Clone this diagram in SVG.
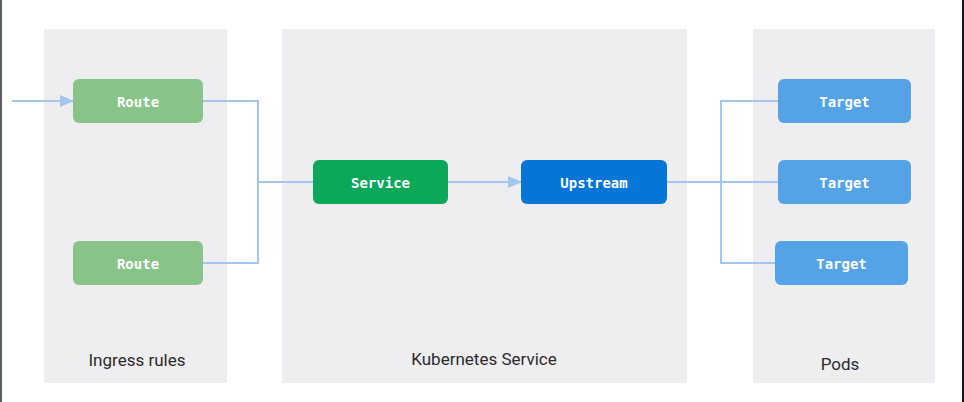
<svg xmlns="http://www.w3.org/2000/svg" width="964" height="402" viewBox="0 0 964 402">
<defs>
<style>
.panel{fill:#eeedf0}
.plabel{font-family:Roboto,"Liberation Sans",sans-serif;font-size:17px;fill:#2b2b2b;text-anchor:middle}
.nlabel{font-family:"DejaVu Sans Mono","Liberation Mono",monospace;font-size:14px;font-weight:bold;fill:#ffffff;text-anchor:middle;dominant-baseline:central}
.route{fill:#88c487}
.service{fill:#0aa858}
.upstream{fill:#0575d6}
.target{fill:#54a3e6}
.conn{fill:none;stroke:#a3c6f0;stroke-width:2}
</style>
<marker id="arr" markerWidth="14" markerHeight="12" refX="13" refY="6" orient="auto" markerUnits="userSpaceOnUse">
<path d="M0,0 L14,6 L0,12 Z" fill="#a3c6f0"/>
</marker>
</defs>
<rect x="0" y="0" width="964" height="402" fill="#ffffff"/>
<rect x="0" y="0" width="2" height="402" fill="#5a5f6a"/>
<rect x="962" y="0" width="2" height="402" fill="#1a1a1a"/>

<g id="panel-ingress">
<rect class="panel" x="44" y="29" width="183" height="354"/>
<text class="plabel" x="137" y="366">Ingress rules</text>
</g>
<g id="panel-k8s">
<rect class="panel" x="282" y="29" width="405" height="354"/>
<text class="plabel" x="484" y="365">Kubernetes Service</text>
</g>
<g id="panel-pods">
<rect class="panel" x="753" y="29" width="182" height="354"/>
<text class="plabel" x="840" y="370">Pods</text>
</g>

<g id="connectors">
<line class="conn" x1="12" y1="101" x2="73" y2="101" marker-end="url(#arr)"/>
<polyline class="conn" points="203,101 258,101 258,263 203,263"/>
<line class="conn" x1="258" y1="182" x2="313" y2="182"/>
<line class="conn" x1="448" y1="182" x2="521" y2="182" marker-end="url(#arr)"/>
<line class="conn" x1="667" y1="182" x2="778" y2="182"/>
<polyline class="conn" points="778,101 721,101 721,263 775,263"/>
</g>

<g id="route1">
<rect class="route" x="73" y="79" width="130" height="44" rx="6"/>
<text class="nlabel" x="138" y="101.5">Route</text>
</g>
<g id="route2">
<rect class="route" x="73" y="241" width="130" height="44" rx="6"/>
<text class="nlabel" x="138" y="263.5">Route</text>
</g>
<g id="service">
<rect class="service" x="313" y="160" width="135" height="44" rx="6"/>
<text class="nlabel" x="380.5" y="182.5">Service</text>
</g>
<g id="upstream">
<rect class="upstream" x="521" y="160" width="146" height="44" rx="6"/>
<text class="nlabel" x="594" y="182.5">Upstream</text>
</g>
<g id="target1">
<rect class="target" x="778" y="79" width="133" height="44" rx="6"/>
<text class="nlabel" x="844.5" y="101.5">Target</text>
</g>
<g id="target2">
<rect class="target" x="778" y="160" width="133" height="44" rx="6"/>
<text class="nlabel" x="844.5" y="182.5">Target</text>
</g>
<g id="target3">
<rect class="target" x="775" y="241" width="133" height="44" rx="6"/>
<text class="nlabel" x="841.5" y="263.5">Target</text>
</g>
</svg>
